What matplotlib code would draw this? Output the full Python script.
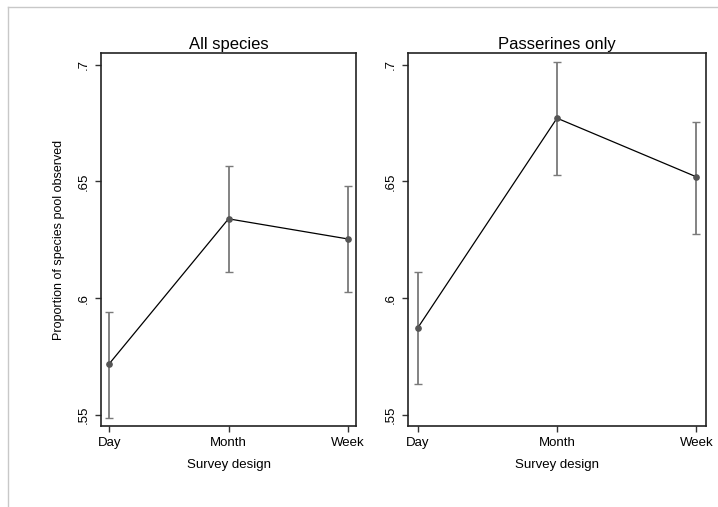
import matplotlib

matplotlib.use("Agg")
import matplotlib.pyplot as plt
from matplotlib.lines import Line2D

plt.rcParams["font.family"] = ["Liberation Sans", "DejaVu Sans"]

designs = ["Day", "Month", "Week"]
panels = ["All species", "Passerines only"]

all_mean = [0.572, 0.634, 0.6254]
all_lo = [0.5487, 0.6113, 0.6027]
all_hi = [0.5943, 0.6568, 0.6481]

pass_mean = [0.5873, 0.6771, 0.652]
pass_lo = [0.5632, 0.6528, 0.6276]
pass_hi = [0.6114, 0.7010, 0.6755]

y_ticks = [0.55, 0.6, 0.65, 0.7]
y_ticklabels = [".55", ".6", ".65", ".7"]

W, H = 718, 507
fig = plt.figure(figsize=(W / 100, H / 100), dpi=100)

# light frame round the picture (top and left edges only)
fig.add_artist(Line2D([8 / W, 1], [1 - 7 / H, 1 - 7 / H], color="#c8c8c8", lw=1))
fig.add_artist(Line2D([8 / W, 8 / W], [0, 1 - 7 / H], color="#c8c8c8", lw=1))

boxes = [
    [101 / W, 1 - 426 / H, 255 / W, 373 / H],
    [408 / W, 1 - 426 / H, 298 / W, 373 / H],
]
series = [(all_mean, all_lo, all_hi), (pass_mean, pass_lo, pass_hi)]

for i, (box, title, (mean, lo, hi)) in enumerate(zip(boxes, panels, series)):
    ax = fig.add_axes(box)
    x = list(range(len(designs)))
    yerr = [[m - l for m, l in zip(mean, lo)], [h - m for m, h in zip(mean, hi)]]
    ax.errorbar(x, mean, yerr=yerr, fmt="none", ecolor="#7a7a7a",
                elinewidth=1.3, capsize=3, capthick=1, zorder=2)
    ax.plot(x, mean, color="black", lw=0.9, zorder=3)
    ax.plot(x, mean, "o", color="#555555", ms=3.8, zorder=4)
    ax.set_xlim(-0.07, 2.07)
    ax.set_ylim(0.5453, 0.705)
    ax.set_xticks(x)
    ax.set_xticklabels(designs, fontsize=9.5)
    ax.set_yticks(y_ticks)
    ax.set_yticklabels(y_ticklabels, fontsize=9.5, rotation=90, va="center")
    ax.tick_params(direction="out", length=4, width=1, color="#333333", pad=4)
    for s in ax.spines.values():
        s.set_linewidth(1.2)
        s.set_color("#222222")
    ax.set_title(title, fontsize=12, pad=3)
    ax.set_xlabel("Survey design", fontsize=9.5, labelpad=7)
    if i == 0:
        ax.set_ylabel("Proportion of species pool observed", fontsize=9, labelpad=9)

fig.savefig("out.png", dpi=100)
